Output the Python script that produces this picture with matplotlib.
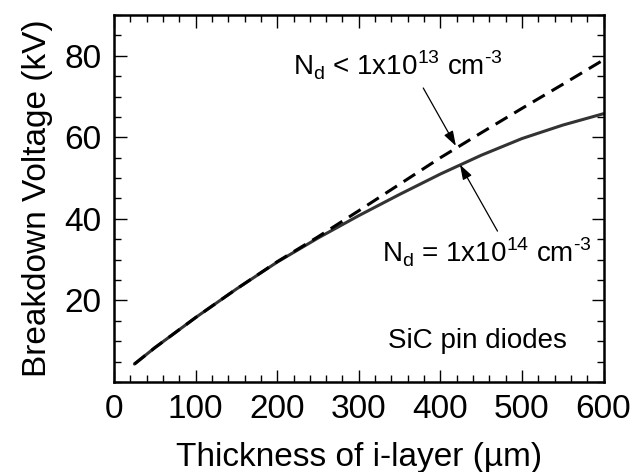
import matplotlib
matplotlib.use("Agg")
import matplotlib.pyplot as plt
import matplotlib.transforms as mtransforms
from matplotlib.ticker import MultipleLocator

plt.rcParams["font.family"] = ["Liberation Sans", "DejaVu Sans"]

# thickness of i-layer (um) and breakdown voltage (kV)
thickness = [25, 50, 100, 150, 200, 250, 300, 350, 400, 450, 500, 550, 600]
vb_1e14 = [4.4, 8.4, 15.8, 22.8, 29.4, 35.3, 40.8, 46.0, 51.0, 55.6, 59.7, 63.0, 65.8]
vb_1e13 = [4.4, 8.4, 15.8, 22.8, 29.5, 35.6, 42.0, 48.5, 55.0, 61.1, 67.1, 73.0, 79.0]

label_1e13 = "N$_\\mathregular{d}$ < 1x10$^\\mathregular{13}$ cm$^\\mathregular{\u20103}$"
label_1e14 = "N$_\\mathregular{d}$ = 1x10$^\\mathregular{14}$ cm$^\\mathregular{\u20103}$"

fig = plt.figure(figsize=(6.32, 4.72), dpi=100)
ax = fig.add_axes([0.1804, 0.1907, 0.7746, 0.7775])

ax.plot(thickness, vb_1e14, color="#333333", lw=2.2, solid_capstyle="round")
ax.plot(thickness, vb_1e13, color="black", lw=2.2, ls=(0, (4.5, 2.6)))

ax.set_xlim(0, 600)
ax.set_ylim(0, 90)
ax.xaxis.set_major_locator(MultipleLocator(100))
ax.xaxis.set_minor_locator(MultipleLocator(20))
ax.set_yticks([20, 40, 60, 80])
ax.yaxis.set_minor_locator(MultipleLocator(5))
ax.tick_params(which="both", direction="in", top=True, right=True, labelsize=24, pad=9)
ax.tick_params(which="major", length=9, width=1)
ax.tick_params(which="minor", length=5, width=1)
for s in ax.spines.values():
    s.set_linewidth(1.8)

# the "0" label sits a little left of its tick in the original
first = ax.get_xticklabels()[0]
first.set_transform(first.get_transform() + mtransforms.ScaledTranslation(-0.1, 0, fig.dpi_scale_trans))

ax.set_xlabel("Thickness of i-layer (\u00b5m)", fontsize=24, labelpad=12)
ax.set_ylabel("Breakdown Voltage (kV)", fontsize=24, labelpad=8)

arrow = dict(arrowstyle="-|>,head_length=0.9,head_width=0.3", color="black", lw=0.9,
             shrinkA=0, shrinkB=0)
ax.annotate("", xy=(419, 57.9), xytext=(379, 72.1), arrowprops=arrow)
ax.annotate("", xy=(424, 53.3), xytext=(470, 37.0), arrowprops=arrow)
ax.text(219, 75.3, label_1e13, fontsize=20, ha="left", va="baseline")
ax.text(328, 29.3, label_1e14, fontsize=20, ha="left", va="baseline")
ax.text(336, 8.3, "SiC pin diodes", fontsize=20, ha="left", va="baseline")

fig.savefig("out.png", dpi=100)
